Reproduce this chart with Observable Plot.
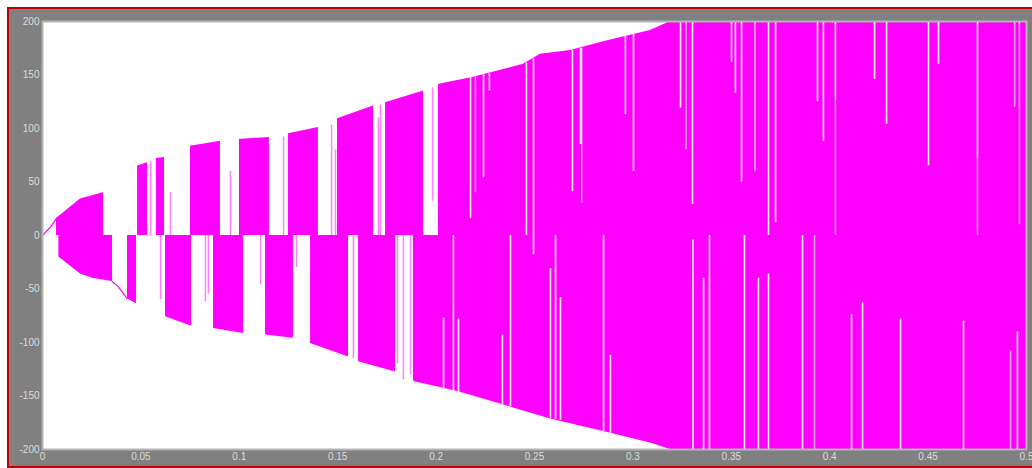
<!DOCTYPE html>
<html><head><meta charset="utf-8">
<script src="https://cdn.jsdelivr.net/npm/d3@7"></script>
<script src="https://cdn.jsdelivr.net/npm/@observablehq/plot@0.6"></script>
<style>
html,body{margin:0;padding:0;background:#fff;width:1032px;height:468px;overflow:hidden;position:relative}
#frame{position:absolute;left:7px;top:7px;width:1025px;height:461px;box-sizing:border-box;border:2px solid #c00000;border-right:none;background:#808080}
#chart{position:absolute;left:0;top:0}
</style></head><body><div id="frame"></div><div id="chart"></div>
<script>
const xTicks = [0, 0.05, 0.1, 0.15, 0.2, 0.25, 0.3, 0.35, 0.4, 0.45, 0.5];
const yTicks = [-200, -150, -100, -50, 0, 50, 100, 150, 200];

// upper envelope of the oscillation [t, value]
const upperEnvelope = [
  [0, 0], [0.0041, 8], [0.0071, 16], [0.0193, 34], [0.0308, 40], [0.0483, 65], [0.0534, 68],
  [0.0579, 72], [0.0620, 73], [0.0752, 83.5], [0.0904, 88], [0.1006, 90], [0.1153, 91.5],
  [0.1250, 95], [0.1402, 101], [0.1499, 109], [0.1682, 121], [0.1743, 124], [0.1936, 135],
  [0.2022, 141.5], [0.2190, 148], [0.2444, 160], [0.2530, 169.5], [0.2683, 173], [0.2871, 182],
  [0.3089, 191.5], [0.3191, 200], [0.5, 200]
];
// lower envelope [t, value]
const lowerEnvelope = [
  [0, 0], [0.0083, -20], [0.0193, -36], [0.0254, -40], [0.0354, -43], [0.0386, -48], [0.0430, -59],
  [0.0476, -63.5], [0.0625, -76], [0.0755, -84.5], [0.0869, -87], [0.1021, -91.5], [0.1133, -93],
  [0.1275, -96], [0.1362, -101], [0.1555, -113.5], [0.1606, -118], [0.1794, -127.5], [0.1895, -137],
  [0.2022, -142], [0.2124, -146.5], [0.2327, -157.5], [0.2581, -171.5], [0.2835, -182.5],
  [0.3089, -194], [0.3191, -200], [0.5, -200]
];
// intervals where the positive / negative half is not filled [t0, t1]
const upperGaps = [
  [0, 0.0071], [0.0310, 0.0483], [0.0534, 0.0579], [0.0620, 0.0752], [0.0904, 0.1001],
  [0.1153, 0.1250], [0.1402, 0.1499], [0.1682, 0.1743], [0.1936, 0.2012]
];
const lowerGaps = [
  [0, 0.0083], [0.0356, 0.0432], [0.0478, 0.0625], [0.0757, 0.0869], [0.1021, 0.1133],
  [0.1275, 0.1362], [0.1555, 0.1606], [0.1794, 0.1885]
];
// single swings inside the gaps [t, from, to]
const gapSwings = [
  [0.0549, 0, 69], [0.0600, -60, 0], [0.0650, 0, 40], [0.0828, -62, 0], [0.0843, -55, 0],
  [0.0955, 0, 60], [0.1108, -46, 0], [0.1225, 0, 92], [0.1291, -30, 0], [0.1469, 0, 103],
  [0.1489, 0, 80], [0.1580, -115, 0], [0.1717, 0, 122], [0.1707, 0, 110], [0.1804, -120, 0],
  [0.1834, -135, 0], [0.1870, -130, 0], [0.1982, 32, 138]
];
// white dropouts inside the filled band [t, from, to]
const dropouts = [
  [0.2175, 16, 148], [0.2241, 54, 150], [0.2271, 135, 151], [0.2459, 0, 161], [0.2495, -18, 165],
  [0.2693, 41, 173], [0.2734, 85, 175], [0.2962, 113, 186], [0.3003, 60, 188], [0.3242, 119, 200],
  [0.3303, 29, 200], [0.3501, 162, 200], [0.3521, 133, 200], [0.3552, 50, 200], [0.3689, 0, 200],
  [0.3725, 12, 200], [0.3938, 125, 200], [0.3968, 88, 200], [0.4029, 126, 200], [0.4228, 146, 200],
  [0.4289, 104, 200], [0.4502, 65, 200], [0.4553, 160, 200], [0.4751, 72, 200],
  [0.2038, -145, -77], [0.2088, -146, 0], [0.2114, -147, -78], [0.2337, -158, -93], [0.2378, -160, 0],
  [0.2581, -171, -31], [0.2607, -172, 0], [0.2632, -173, -58], [0.2851, -183, 0], [0.2886, -185, -112],
  [0.3305, -200, -4], [0.3359, -200, -40], [0.3389, -200, 0], [0.3567, -200, 0], [0.3638, -200, -40],
  [0.3689, -200, -36], [0.3862, -200, 0], [0.4111, -200, -74], [0.4167, -200, -63], [0.4360, -200, -78],
  [0.4680, -200, -80], [0.4954, -200, -90]
];
// paler (partial) dropouts [t, from, to]
const paleDropouts = [
  [0.4029, 0, 126], [0.4751, 0, 72], [0.4964, 10, 200], [0.4940, 120, 200], [0.3923, -200, 0],
  [0.4919, -200, -108], [0.3270, 80, 200], [0.3620, 60, 200], [0.2740, 30, 175], [0.2200, 40, 148]
];

const pt = ([x, y]) => ({x, y});
const up = upperEnvelope.map(pt);
const low = lowerEnvelope.map(pt);
const magenta = "#ff00ff";

const chart = Plot.plot({
  width: 1032, height: 468,
  marginLeft: 42, marginRight: 6, marginTop: 21, marginBottom: 19,
  style: {background: "transparent", fontFamily: "'Liberation Sans', Arial, sans-serif", fontSize: "10px"},
  x: {domain: [0, 0.5]},
  y: {domain: [-200, 200]},
  marks: [
    Plot.frame({fill: "white"}),
    Plot.areaY(up, {x: "x", y: "y", fill: magenta}),
    Plot.areaY(low, {x: "x", y: "y", fill: magenta}),
    Plot.rect(upperGaps, {x1: d => d[0], x2: d => d[1], y1: 0, y2: 200, fill: "white"}),
    Plot.rect(lowerGaps, {x1: d => d[0], x2: d => d[1], y1: -200, y2: 0, fill: "white"}),
    Plot.line(up.filter(d => d.x <= 0.0071), {x: "x", y: "y", stroke: magenta, strokeWidth: 1.2}),
    Plot.line(low.filter(d => d.x >= 0.0354 && d.x <= 0.0430), {x: "x", y: "y", stroke: magenta, strokeWidth: 1.2}),
    Plot.ruleX(gapSwings, {x: d => d[0], y1: d => d[1], y2: d => d[2], stroke: "#ff80ff", strokeWidth: 1.5}),
    Plot.ruleX(paleDropouts, {x: d => d[0], y1: d => d[1], y2: d => d[2], stroke: "#ffa8ff", strokeWidth: 1.5}),
    Plot.ruleX(dropouts, {x: d => d[0], y1: d => d[1], y2: d => d[2], stroke: "#fff0ff", strokeWidth: 1.6}),
    Plot.frame({stroke: "#b4b4b4", strokeWidth: 2}),
    Plot.axisX({ticks: xTicks, tickSize: 0, tickPadding: 3, tickFormat: d => String(d), label: null, fill: "#dcdcdc"}),
    Plot.axisY({ticks: yTicks, tickSize: 0, tickPadding: 3, tickFormat: d => String(d), label: null, fill: "#dcdcdc"})
  ]
});
document.getElementById("chart").appendChild(chart);
</script>
</body></html>
